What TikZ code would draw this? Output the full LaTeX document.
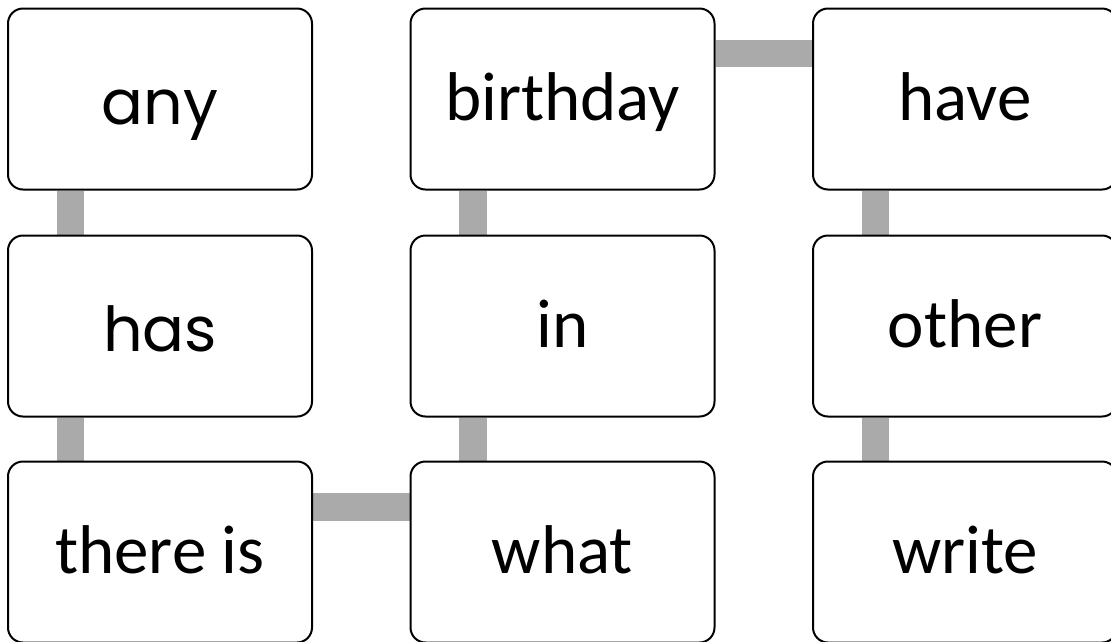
\documentclass[tikz,border=0pt]{standalone}
\usepackage{fontspec}
\setmainfont{Carlito}
\newfontfamily\comicfont{Poppins}
\usetikzlibrary{backgrounds}
\definecolor{conngray}{RGB}{170,170,170}
\tikzset{
  wordbox/.style={draw=black, line width=2pt, rounded corners=15pt, fill=white,
    minimum width=304pt, minimum height=181pt, inner sep=0pt,
    font=\fontsize{69}{80}\selectfont, text height=42pt, text depth=0pt},
  comicbox/.style={wordbox, font=\comicfont\fontsize{62}{72}\selectfont, text height=50pt},
  conn/.style={draw=conngray, line width=27.5pt},
}
\begin{document}
\begin{tikzpicture}[x=1pt, y=-1pt]
\useasboundingbox (0,0) rectangle (1111,641);
% column 1
\node[comicbox] (any) at (160,99) {any};
\node[comicbox] (has) at (160,326) {has};
\node[wordbox] (thereis) at (160,552) {there is};
% column 2
\node[wordbox] (birthday) at (562.5,99) {birthday};
\node[wordbox] (in) at (562.5,326) {in};
\node[wordbox] (what) at (562.5,552) {what};
% column 3
\node[wordbox] (have) at (965,99) {have};
\node[wordbox] (other) at (965,326) {other};
\node[wordbox] (write) at (965,552) {write};
\begin{scope}[on background layer]
\draw[conn] ([xshift=-89.5pt]any.south) -- ([xshift=-89.5pt]has.north);
\draw[conn] ([xshift=-89.5pt]has.south) -- ([xshift=-89.5pt]thereis.north);
\draw[conn] ([yshift=45pt]thereis.east) -- ([yshift=45pt]what.west);
\draw[conn] ([xshift=-89.5pt]what.north) -- ([xshift=-89.5pt]in.south);
\draw[conn] ([xshift=-89.5pt]in.north) -- ([xshift=-89.5pt]birthday.south);
\draw[conn] ([yshift=45.5pt]birthday.east) -- ([yshift=45.5pt]have.west);
\draw[conn] ([xshift=-89.5pt]have.south) -- ([xshift=-89.5pt]other.north);
\draw[conn] ([xshift=-89.5pt]other.south) -- ([xshift=-89.5pt]write.north);
\end{scope}
\end{tikzpicture}
\end{document}
